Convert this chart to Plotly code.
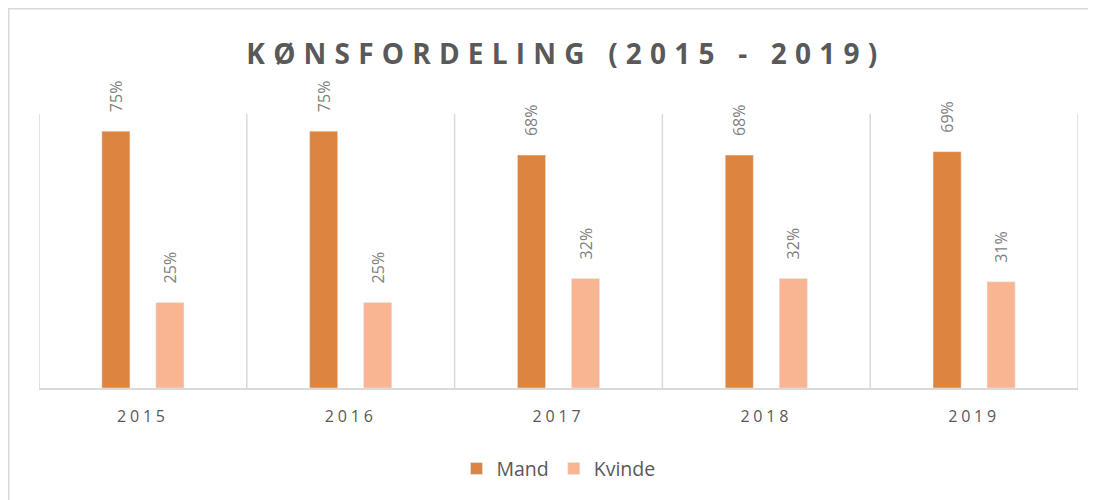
import plotly.graph_objects as go

years = ["2015", "2016", "2017", "2018", "2019"]
mand = [75, 75, 68, 68, 69]
kvinde = [25, 25, 32, 32, 31]
title_text = "KØNSFORDELING (2015 - 2019)"

c_mand = "#DD843F"
c_kvinde = "#F9B591"
grid = "#D9D9D9"
txt = "#595959"
lbl = "#7F7F7F"

def pct(vals):
    return ["\u2003" + f"{v}%" for v in vals]

fig = go.Figure()
fig.add_trace(go.Bar(name="Mand", x=years, y=mand, marker_color=c_mand,
                     text=pct(mand), textposition="outside", constraintext="none",
                     textangle=-90, cliponaxis=False,
                     textfont=dict(family="Open Sans", size=16, color=lbl)))
fig.add_trace(go.Bar(name="Kvinde", x=years, y=kvinde, marker_color=c_kvinde,
                     text=pct(kvinde), textposition="outside", constraintext="none",
                     textangle=-90, cliponaxis=False,
                     textfont=dict(family="Open Sans", size=16, color=lbl)))

shapes = []
for i in range(len(years) + 1):
    shapes.append(dict(type="line", xref="x", yref="y domain", x0=i - 0.5, x1=i - 0.5,
                       y0=0, y1=1, line=dict(color=grid, width=1.5), layer="below"))
shapes.append(dict(type="rect", xref="paper", yref="paper", x0=-0.0291, x1=1.1,
                   y0=-0.6, y1=1 + 105.3 / 274, line=dict(color=grid, width=1.5), layer="below"))

fig.update_layout(
    width=1096, height=500,
    paper_bgcolor="white", plot_bgcolor="white",
    margin=dict(l=31, r=26, t=106, b=120),
    barmode="group", bargap=0.48, bargroupgap=0.48,
    title=dict(text='<span style="letter-spacing:8.2px">' + title_text + '</span>',
               x=0.509, xanchor="center", y=0.908, yanchor="middle",
               font=dict(family="Open Sans", size=28, color=txt, weight="bold")),
    legend=dict(orientation="h", x=0.5, xanchor="center", y=-0.295, yanchor="middle",
                font=dict(family="Open Sans", size=19.5, color=txt), itemwidth=30,
                traceorder="normal"),
    shapes=shapes,
    showlegend=True,
)
fig.update_xaxes(type="category", showgrid=False, showline=True, linecolor=grid, linewidth=1.5,
                 ticks="", tickfont=dict(family="Open Sans", size=16, color=txt),
                 tickvals=years,
                 ticktext=['<span style="letter-spacing:3.8px">' + y + '</span>' for y in years],
                 ticklabelstandoff=13,
                 range=[-0.5, len(years) - 0.5])
fig.update_yaxes(range=[0, 80], showgrid=False, showticklabels=False, zeroline=False,
                 showline=False)

fig.write_html("out.html")
